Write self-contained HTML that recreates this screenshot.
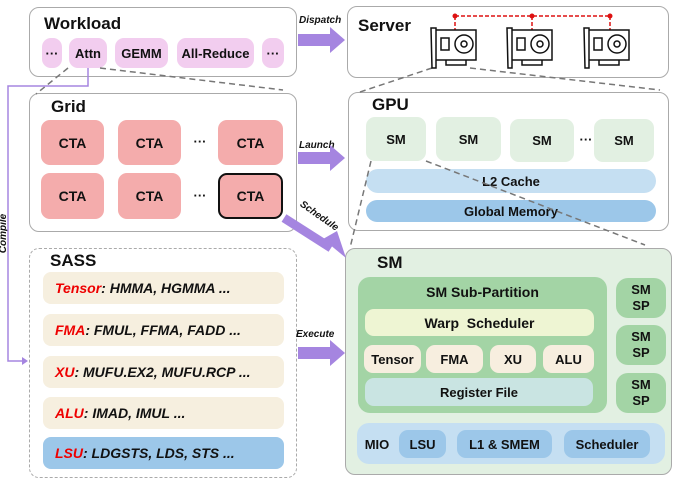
<!DOCTYPE html>
<html><head><meta charset="utf-8"><style>
body{margin:0;width:677px;height:480px;background:#fff;position:relative;overflow:hidden;font-family:"Liberation Sans",sans-serif;font-weight:bold;color:#111}
.a{position:absolute;box-sizing:border-box;display:flex;align-items:center;justify-content:center;font-size:13px;text-align:center}
.box{position:absolute;box-sizing:border-box;border:1.5px solid #aaa;border-radius:10px}
.t{position:absolute;font-size:17px}
.r{border-radius:9px}
.s{position:absolute;box-sizing:border-box;border-radius:8px;background:#f6efdf;font-style:italic;font-size:14px;padding-left:12px;display:flex;align-items:center}
.s i{color:#e00}
.lbl{position:absolute;font-size:10px;font-style:italic}
</style></head><body>
<div class="box" style="left:29px;top:7px;width:268px;height:70px"></div>
<div class="t" style="left:44px;top:14px">Workload</div>
<div class="a r" style="left:42px;top:38px;width:20px;height:30px;background:#f2cdef">···</div>
<div class="a r" style="left:69px;top:38px;width:38px;height:30px;background:#f2cdef">Attn</div>
<div class="a r" style="left:115px;top:38px;width:53px;height:30px;background:#f2cdef">GEMM</div>
<div class="a r" style="left:177px;top:38px;width:77px;height:30px;background:#f2cdef">All-Reduce</div>
<div class="a r" style="left:262px;top:38px;width:22px;height:30px;background:#f2cdef">···</div>

<div class="box" style="left:29px;top:93px;width:268px;height:139px"></div>
<div class="t" style="left:51px;top:97px">Grid</div>
<div class="a r" style="left:41px;top:120px;width:63px;height:45px;background:#f4acac;font-size:14px">CTA</div>
<div class="a r" style="left:118px;top:120px;width:63px;height:45px;background:#f4acac;font-size:14px">CTA</div>
<div class="a r" style="left:218px;top:120px;width:65px;height:45px;background:#f4acac;font-size:14px">CTA</div>
<div class="a r" style="left:41px;top:173px;width:63px;height:46px;background:#f4acac;font-size:14px">CTA</div>
<div class="a r" style="left:118px;top:173px;width:63px;height:46px;background:#f4acac;font-size:14px">CTA</div>
<div class="a r" style="left:218px;top:173px;width:65px;height:46px;background:#f4acac;font-size:14px;border:2px solid #111">CTA</div>
<div class="a" style="left:190px;top:133px;width:20px;height:16px">···</div>
<div class="a" style="left:190px;top:187px;width:20px;height:16px">···</div>

<div class="box" style="left:29px;top:248px;width:268px;height:230px;border:1.5px dashed #aaa"></div>
<div class="t" style="left:50px;top:251px">SASS</div>
<div class="s" style="left:43px;top:272px;width:241px;height:32px"><span><i>Tensor</i>: HMMA, HGMMA ...</span></div>
<div class="s" style="left:43px;top:314px;width:241px;height:32px"><span><i>FMA</i>: FMUL, FFMA, FADD ...</span></div>
<div class="s" style="left:43px;top:356px;width:241px;height:32px"><span><i>XU</i>: MUFU.EX2, MUFU.RCP ...</span></div>
<div class="s" style="left:43px;top:397px;width:241px;height:32px"><span><i>ALU</i>: IMAD, IMUL ...</span></div>
<div class="s" style="left:43px;top:437px;width:241px;height:32px;background:#9cc7e9"><span><i>LSU</i>: LDGSTS, LDS, STS ...</span></div>

<div class="box" style="left:347px;top:6px;width:322px;height:72px"></div>
<div class="t" style="left:358px;top:16px">Server</div>

<div class="box" style="left:348px;top:92px;width:321px;height:139px"></div>
<div class="t" style="left:372px;top:95px">GPU</div>
<div class="a r" style="left:366px;top:117px;width:60px;height:44px;background:#e2f0e2">SM</div>
<div class="a r" style="left:436px;top:117px;width:65px;height:44px;background:#e2f0e2">SM</div>
<div class="a r" style="left:510px;top:119px;width:64px;height:43px;background:#e2f0e2">SM</div>
<div class="a" style="left:578px;top:131px;width:16px;height:16px">···</div>
<div class="a r" style="left:594px;top:119px;width:60px;height:43px;background:#e2f0e2">SM</div>
<div class="a" style="left:366px;top:169px;width:290px;height:24px;background:#c5dff2;border-radius:12px">L2 Cache</div>
<div class="a" style="left:366px;top:200px;width:290px;height:22px;background:#9cc7e9;border-radius:11px">Global Memory</div>

<div class="box" style="left:345px;top:248px;width:327px;height:227px;background:#e2f0e2"></div>
<div class="t" style="left:377px;top:253px">SM</div>
<div class="a" style="left:358px;top:277px;width:249px;height:136px;background:#a3d4a5;border-radius:12px"></div>
<div class="a" style="left:358px;top:282px;width:249px;height:20px;font-size:14px">SM Sub-Partition</div>
<div class="a r" style="left:365px;top:309px;width:229px;height:27px;background:#eef5d3;font-size:14px">Warp&nbsp; Scheduler</div>
<div class="a r" style="left:364px;top:345px;width:57px;height:28px;background:#f7eedf">Tensor</div>
<div class="a r" style="left:426px;top:345px;width:57px;height:28px;background:#f7eedf">FMA</div>
<div class="a r" style="left:490px;top:345px;width:46px;height:28px;background:#f7eedf">XU</div>
<div class="a r" style="left:543px;top:345px;width:51px;height:28px;background:#f7eedf">ALU</div>
<div class="a r" style="left:365px;top:378px;width:228px;height:28px;background:#c9e4e2">Register File</div>
<div class="a" style="left:616px;top:278px;width:50px;height:40px;background:#a3d4a5;border-radius:12px;line-height:16px">SM<br>SP</div>
<div class="a" style="left:616px;top:325px;width:50px;height:40px;background:#a3d4a5;border-radius:12px;line-height:16px">SM<br>SP</div>
<div class="a" style="left:616px;top:373px;width:50px;height:40px;background:#a3d4a5;border-radius:12px;line-height:16px">SM<br>SP</div>
<div class="a" style="left:357px;top:423px;width:308px;height:41px;background:#c5dff2;border-radius:12px"></div>
<div class="a" style="left:360px;top:433px;width:34px;height:22px">MIO</div>
<div class="a r" style="left:399px;top:430px;width:47px;height:28px;background:#9cc7e9">LSU</div>
<div class="a r" style="left:457px;top:430px;width:95px;height:28px;background:#9cc7e9">L1 &amp; SMEM</div>
<div class="a r" style="left:564px;top:430px;width:86px;height:28px;background:#9cc7e9">Scheduler</div>

<div class="lbl" style="left:299px;top:15px">Dispatch</div>
<div class="lbl" style="left:299px;top:140px">Launch</div>
<div class="lbl" style="left:296px;top:329px">Execute</div>
<div class="lbl" style="left:304px;top:199px;transform:rotate(35deg);transform-origin:left top">Schedule</div>
<div class="lbl" style="left:-16px;top:228px;transform:rotate(-90deg)">Compile</div>

<svg width="677" height="480" style="position:absolute;left:0;top:0" fill="none">
<g stroke="#777" stroke-width="1.5" stroke-dasharray="6,4">
<line x1="68" y1="68" x2="36" y2="94"/><line x1="100" y1="68" x2="283" y2="90"/>
<line x1="432" y1="68" x2="357" y2="93"/><line x1="470" y1="68" x2="660" y2="90"/>
<line x1="371" y1="161" x2="350" y2="248"/><line x1="426" y1="161" x2="645" y2="245"/>
</g>
<polyline points="88,68 88,86 8,86 8,361 22,361" stroke="#a585e0" stroke-width="1.5"/>
<polygon points="22,357 28,361 22,365" fill="#a585e0"/>
<g fill="#a585e0">
<polygon points="298,34 330,34 330,27 345,40 330,53 330,46 298,46"/>
<polygon points="298,152 330,152 330,145 345,158 330,171 330,164 298,164"/>
<polygon points="298,347 330,347 330,340 345,353 330,366 330,359 298,359"/>
</g>
<line x1="284" y1="218" x2="331" y2="248" stroke="#a585e0" stroke-width="9"/>
<polygon points="323,239 346,258 337,231" fill="#a585e0"/>
<g stroke="#d11" stroke-width="1.5" stroke-dasharray="4,2">
<line x1="455" y1="16" x2="610" y2="16"/><line x1="455" y1="16" x2="455" y2="30"/><line x1="532" y1="16" x2="532" y2="30"/><line x1="610" y1="16" x2="610" y2="30"/>
</g>
<g fill="#d11"><circle cx="455" cy="16" r="2.5"/><circle cx="532" cy="16" r="2.5"/><circle cx="610" cy="16" r="2.5"/></g>
<g stroke="#111" stroke-width="1.5">
<g id="g1"><path d="M431,28 h5 v40 h-4 z"/><path d="M436,30 h40 v30 h-40"/><circle cx="464" cy="44" r="9"/><circle cx="464" cy="44" r="3"/><path d="M446,60 v5 h20 v-5"/><path d="M441,38 h8 v12 h-8z"/></g>
<use href="#g1" x="76"/><use href="#g1" x="153"/>
</g>
</svg>
</body></html>
